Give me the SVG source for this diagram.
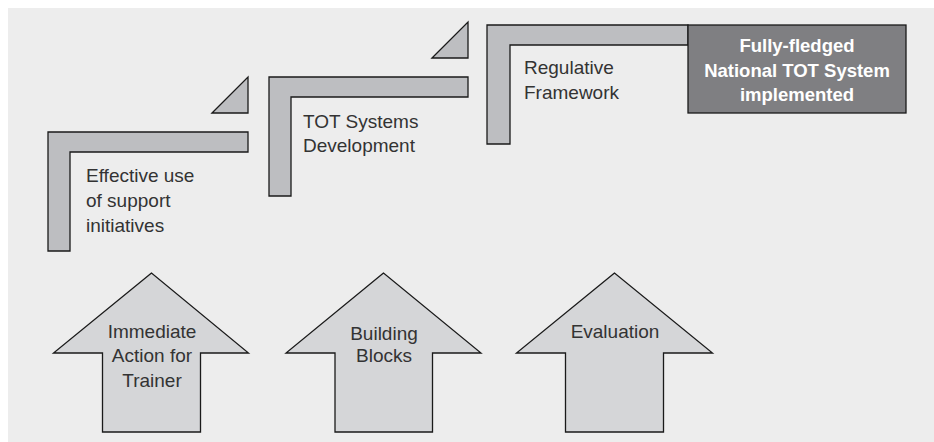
<svg xmlns="http://www.w3.org/2000/svg" width="934" height="442" viewBox="0 0 934 442">
<style>
.stair{fill:#bdbec1;stroke:#1a1a1a;stroke-width:1.3}
.arrow{fill:#d5d6d8;stroke:#1a1a1a;stroke-width:1.3}
.lbl{font-family:"Liberation Sans","Open Sans",Arial,sans-serif;font-size:19px;fill:#333}
.mid{text-anchor:middle}
.box{fill:#7f7f82;stroke:#1a1a1a;stroke-width:1.3}
.wlbl{font-family:"Liberation Sans","Open Sans",Arial,sans-serif;font-size:18.5px;font-weight:bold;fill:#fff;text-anchor:middle}
</style>
<rect x="8" y="8" width="926" height="434" fill="#ededed"/>
<g id="step1">
<polygon class="stair" points="48,132 248,132 248,152 70,152 70,251 48,251"/>
<text class="lbl" x="86" y="182">Effective use</text>
<text class="lbl" x="86" y="207">of support</text>
<text class="lbl" x="86" y="232">initiatives</text>
</g>
<g id="tri1"><polygon class="stair" points="212,113 248,77 248,113"/></g>
<g id="step2">
<polygon class="stair" points="269,77 468,77 468,97 291,97 291,196 269,196"/>
<text class="lbl" x="303" y="128">TOT Systems</text>
<text class="lbl" x="303" y="152">Development</text>
</g>
<g id="tri2"><polygon class="stair" points="432,58 468,22 468,58"/></g>
<g id="step3">
<polygon class="stair" points="487,25 688,25 688,45 510,45 510,144 487,144"/>
<text class="lbl" x="524" y="74">Regulative</text>
<text class="lbl" x="524" y="99">Framework</text>
</g>
<g id="goal">
<rect class="box" x="688" y="25" width="218" height="88"/>
<text class="wlbl" x="797" y="52">Fully-fledged</text>
<text class="wlbl" x="797" y="77">National TOT System</text>
<text class="wlbl" x="797" y="101">implemented</text>
</g>
<g id="arrow1">
<polygon class="arrow" points="151.5,273 53.5,353 102.5,353 102.5,432 200.5,432 200.5,353 248.5,353"/>
<text class="lbl mid" x="152" y="338">Immediate</text>
<text class="lbl mid" x="152" y="362">Action for</text>
<text class="lbl mid" x="152" y="387">Trainer</text>
</g>
<g id="arrow2">
<polygon class="arrow" points="383.5,273 286,353 335,353 335,432 432.5,432 432.5,353 481,353"/>
<text class="lbl mid" x="384" y="340">Building</text>
<text class="lbl mid" x="384" y="362">Blocks</text>
</g>
<g id="arrow3">
<polygon class="arrow" points="614.5,273 516.5,353 565.5,353 565.5,432 663.5,432 663.5,353 712.5,353"/>
<text class="lbl mid" x="615" y="338">Evaluation</text>
</g>
<g id="connectors"></g>
</svg>
